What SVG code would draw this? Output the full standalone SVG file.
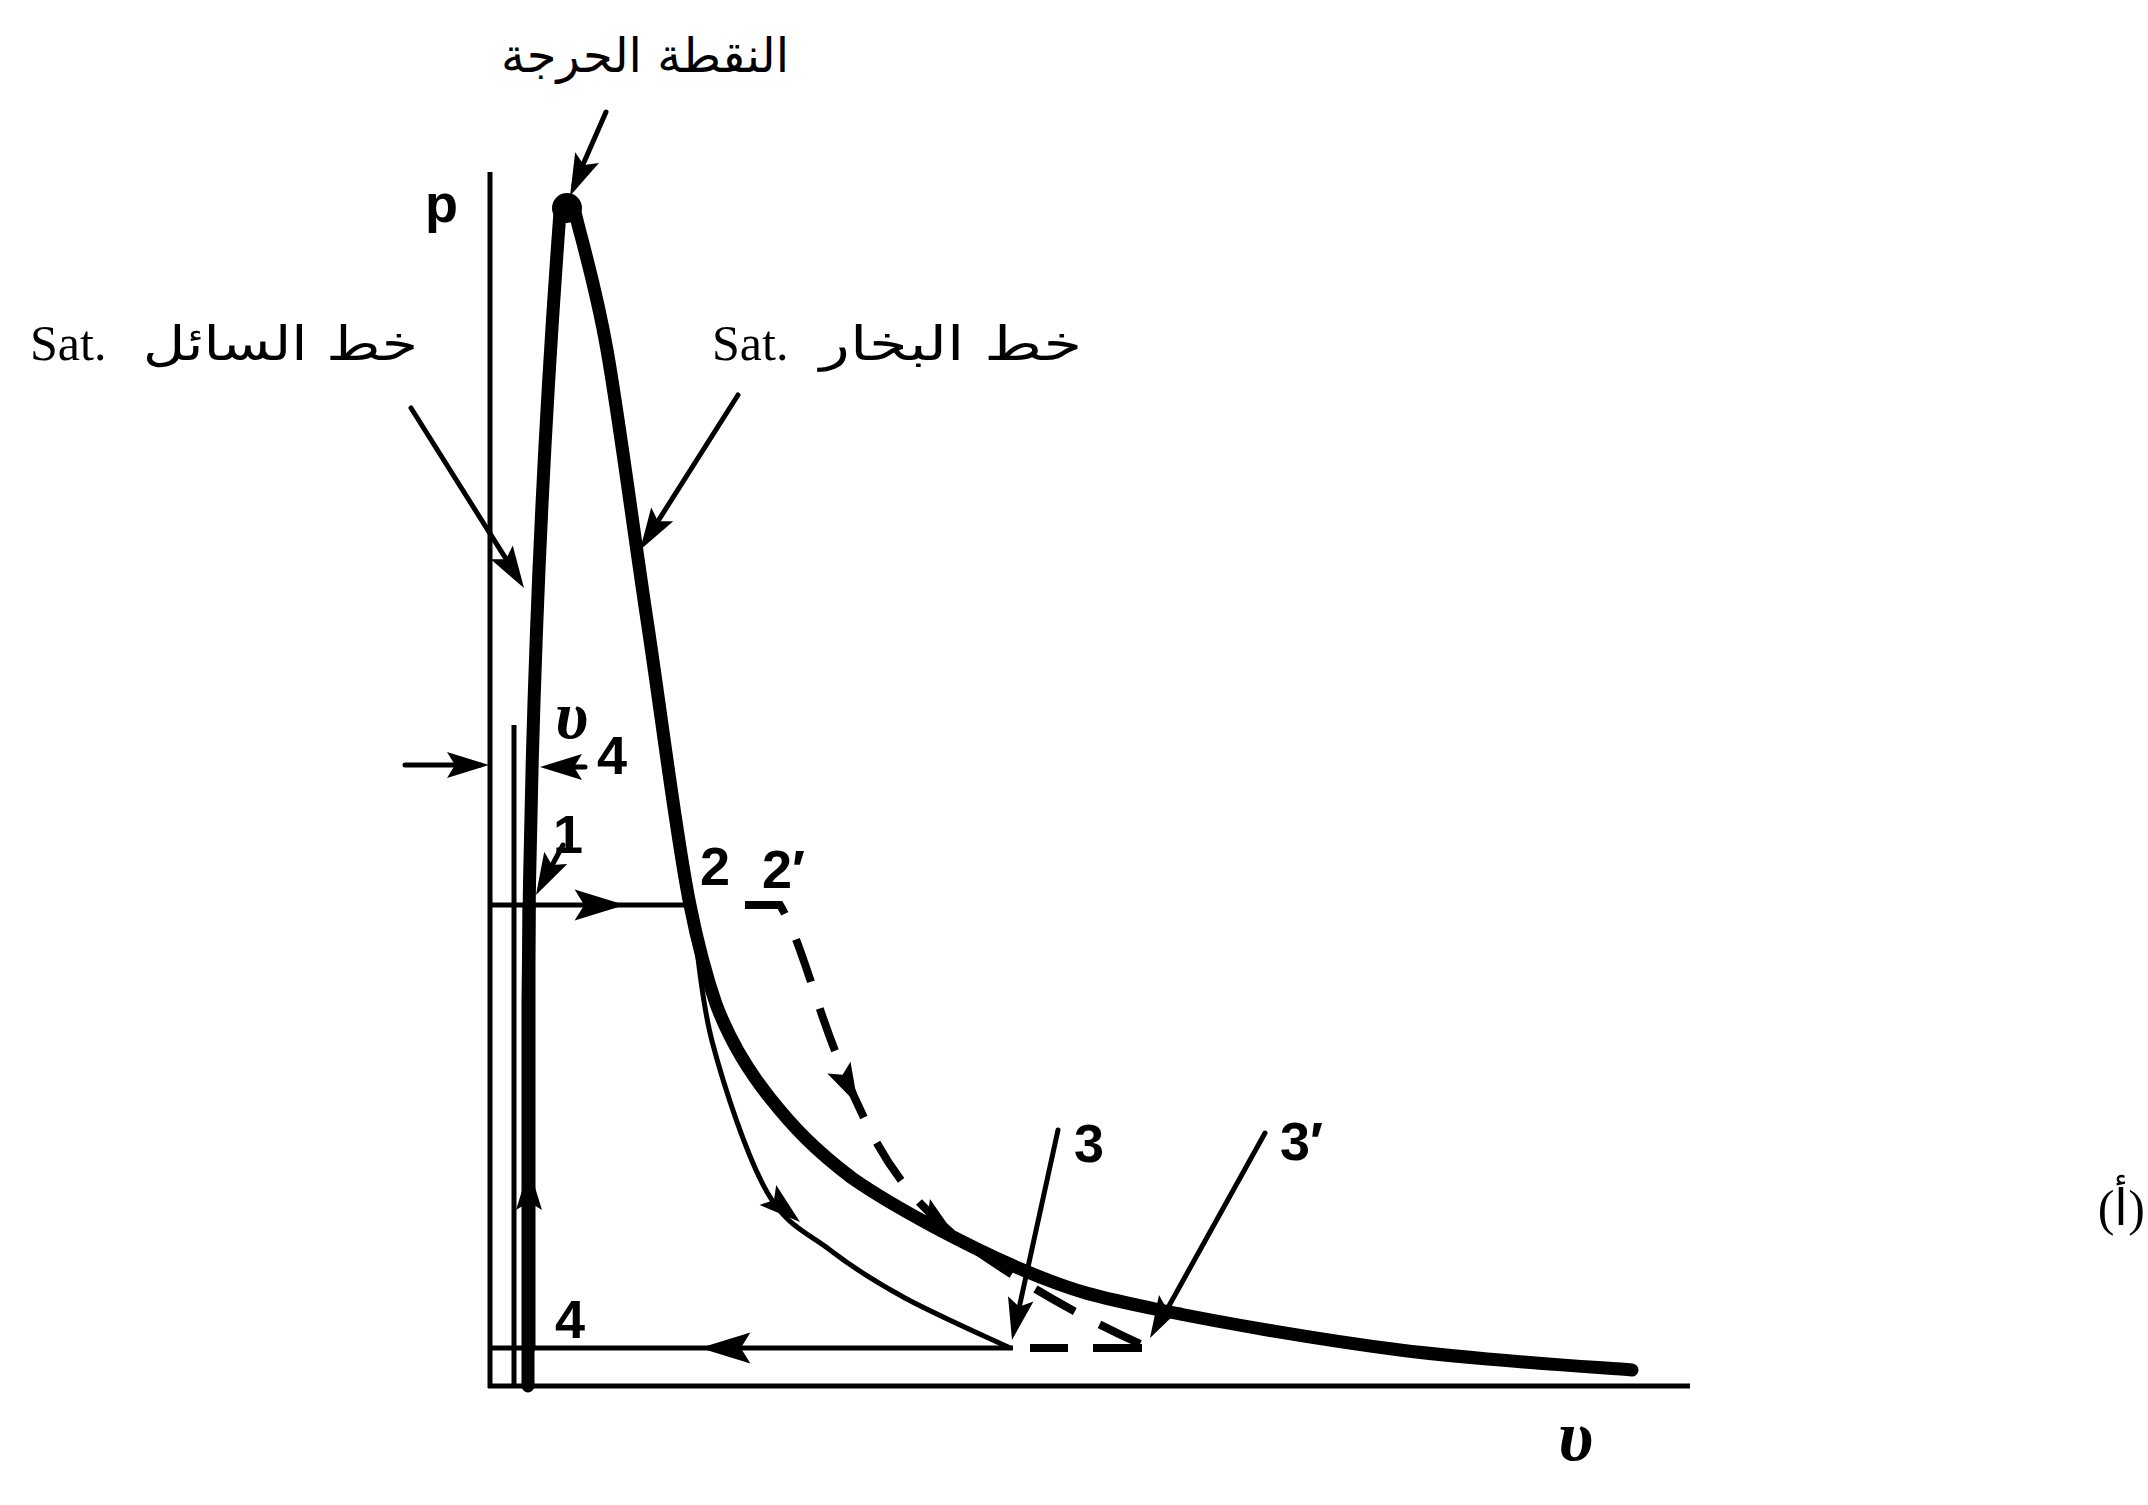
<svg xmlns="http://www.w3.org/2000/svg" xmlns:xlink="http://www.w3.org/1999/xlink" width="2148" height="1505" viewBox="0 0 2148 1505">
<style>
.axis{stroke:#000;stroke-width:5;fill:none}
.thick{stroke:#000;stroke-width:13;fill:none;stroke-linecap:round;stroke-linejoin:round}
.thin{stroke:#000;stroke-width:5;fill:none}
.lead{stroke:#000;stroke-width:5;fill:none;stroke-linecap:round}
.dash{stroke:#000;stroke-width:8;fill:none;stroke-dasharray:45 28}
.seg{stroke:#000;stroke-width:8;fill:none}
.lbl{font-family:"Liberation Sans",Arial,sans-serif;font-weight:bold;font-size:54px;fill:#000}
.ar{font-family:"DejaVu Sans",sans-serif;font-size:48px;fill:#000}
.sat{font-family:"Liberation Serif","Times New Roman",serif;font-size:50px;fill:#000}
.sym{font-family:"Liberation Serif","Times New Roman",serif;font-style:italic;font-weight:bold;fill:#000}
</style>
<defs>
<path id="ah" d="M0,0 L-42,-13 L-34,0 L-42,13 Z" fill="#000"/>
</defs>
<rect width="2148" height="1505" fill="#fff"/>

<g id="axes">
<line class="axis" x1="490" y1="172" x2="490" y2="1388"/>
<line class="axis" x1="488" y1="1386" x2="1690" y2="1386"/>
<text id="p-label" class="lbl" x="425" y="222" font-size="70">p</text>
<text id="v-label" class="sym" x="1558" y="1460" font-size="72">υ</text>
</g>

<g id="saturation-dome">
<path class="thick" d="M528,1386 L528,1000 C530,760 540,480 560,212"/>
<path class="thick" d="M575,212 C580,235 595,282 607,350 C619,418 633,527 647,620 C661,712 677,842 690,905 C699,950 706,975 716,1004 C728,1036 746,1068 770,1098 C793,1127 815,1150 852,1178 C895,1208 971,1248 1023,1270 C1075,1292 1097,1297 1160,1310 C1223,1323 1321,1340 1400,1350 C1479,1360 1593,1367 1632,1370"/>
<circle id="critical-point" cx="567" cy="208" r="15" fill="#000"/>
</g>

<g id="connectors">
<line class="thin" x1="514" y1="725" x2="514" y2="1386"/>
<line class="thin" x1="490" y1="905" x2="692" y2="905"/>
<line class="thin" x1="490" y1="1348" x2="1013" y2="1348"/>
<line class="thick" x1="529" y1="1348" x2="529" y2="905"/>
<path class="thin" d="M692,905 C695.3,927.7 699.5,993.2 712,1041 C724.5,1088.8 747.3,1157.2 767,1192 C786.7,1226.8 807,1232.3 830,1250 C853,1267.7 875,1281.7 905,1298 C935,1314.3 992.5,1339.7 1010,1348"/>
<path class="dash" d="M745,905 H780 C792,925 802,955 812,985 C828,1035 845,1080 870,1130 C895,1180 930,1220 975,1250 C1025,1285 1090,1322 1145,1346"/>
<path class="seg" d="M1030,1348 H1068 M1093,1348 H1142"/>
<line class="lead" x1="606" y1="112" x2="574" y2="185"/>
<line class="lead" x1="411" y1="408" x2="518" y2="578"/>
<line class="lead" x1="738" y1="395" x2="646" y2="540"/>
<line class="lead" x1="405" y1="765" x2="480" y2="765"/>
<line class="lead" x1="585" y1="767" x2="550" y2="767"/>
<line class="lead" x1="563" y1="845" x2="542" y2="884"/>
<line class="lead" x1="1058" y1="1130" x2="1016" y2="1322"/>
<line class="lead" x1="1265" y1="1133" x2="1160" y2="1322"/>
<use xlink:href="#ah" transform="translate(570,196) rotate(114)"/>
<use xlink:href="#ah" transform="translate(524,588) rotate(58)"/>
<use xlink:href="#ah" transform="translate(640,550) rotate(122)"/>
<use xlink:href="#ah" transform="translate(489,765)"/>
<use xlink:href="#ah" transform="translate(540,767) rotate(180)"/>
<use xlink:href="#ah" transform="translate(536,895) rotate(118)"/>
<use xlink:href="#ah" transform="translate(625,905) scale(1.2)"/>
<use xlink:href="#ah" transform="translate(529,1168) rotate(-90)"/>
<use xlink:href="#ah" transform="translate(700,1348) rotate(180) scale(1.2)"/>
<use xlink:href="#ah" transform="translate(800,1222) rotate(40)"/>
<use xlink:href="#ah" transform="translate(858,1105) rotate(63)"/>
<use xlink:href="#ah" transform="translate(955,1235) rotate(38)"/>
<use xlink:href="#ah" transform="translate(1012,1340) rotate(102)"/>
<use xlink:href="#ah" transform="translate(1150,1338) rotate(119)"/>
</g>

<g id="labels">
<text id="critical-label" class="ar" x="645" y="72" text-anchor="middle" font-size="44">النقطة الحرجة</text>
<g id="sat-liquid-label">
<text class="sat" x="30" y="360">Sat.</text>
<text class="ar" transform="translate(418,360) scale(1.22,1)" text-anchor="end">خط السائل</text>
</g>
<g id="sat-vapor-label">
<text class="sat" x="712" y="360">Sat.</text>
<text class="ar" transform="translate(1082,360) scale(1.3,1)" text-anchor="end">خط البخار</text>
</g>
<text id="v4-label" class="sym" x="555" y="738" font-size="68">υ</text>
<text class="lbl" x="597" y="774" font-size="48">4</text>
<text id="pt1" class="lbl" x="553" y="853">1</text>
<text id="pt2" class="lbl" x="700" y="885">2</text>
<text id="pt2p" class="lbl" x="762" y="888">2′</text>
<text id="pt3" class="lbl" x="1074" y="1162">3</text>
<text id="pt3p" class="lbl" x="1280" y="1160">3′</text>
<text id="pt4" class="lbl" x="555" y="1338">4</text>
<text id="fig-label" class="sat" x="2145" y="1225" text-anchor="end" font-size="56">(أ)</text>
</g>
</svg>
